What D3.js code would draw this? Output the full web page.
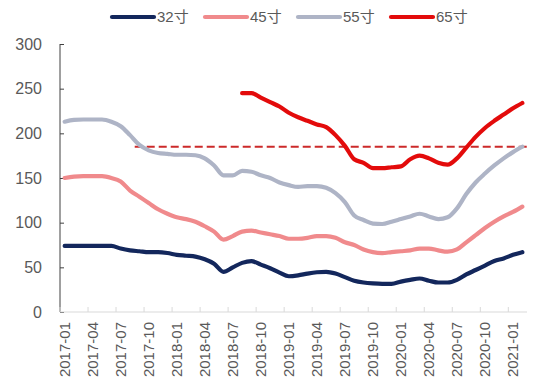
<!DOCTYPE html>
<html><head><meta charset="utf-8">
<script src="https://cdn.jsdelivr.net/npm/d3@7"></script>
<style>
html,body{margin:0;padding:0;background:#fff;}
svg{display:block;font-family:"Liberation Sans",Arial,"Noto Sans CJK SC",sans-serif;}
</style></head><body>
<svg id="chart" width="554" height="391"></svg>
<script>
const categories = ["2017-01","2017-02","2017-03","2017-04","2017-05","2017-06","2017-07","2017-08","2017-09","2017-10","2017-11","2017-12",
"2018-01","2018-02","2018-03","2018-04","2018-05","2018-06","2018-07","2018-08","2018-09","2018-10","2018-11","2018-12",
"2019-01","2019-02","2019-03","2019-04","2019-05","2019-06","2019-07","2019-08","2019-09","2019-10","2019-11","2019-12",
"2020-01","2020-02","2020-03","2020-04","2020-05","2020-06","2020-07","2020-08","2020-09","2020-10","2020-11","2020-12",
"2021-01","2021-02"];
const tickLabels = ["2017-01","2017-04","2017-07","2017-10","2018-01","2018-04","2018-07","2018-10","2019-01","2019-04","2019-07","2019-10","2020-01","2020-04","2020-07","2020-10","2021-01"];
const yTicks = [0,50,100,150,200,250,300];
const s32 = [74,74,74,74,74,74,71,69,68,67,67,66,64,63,62,59,54,45,50,55,57,53,49,44,40,41,43,44.5,45,43,39,35,33,32,31.5,31.5,34,36,37.5,35,33,33,36,42,47,52,57,60,64,67];
const s45 = [150,151.5,152,152,152,150,146,136,129,122,115,110,106,104,101,96,90,81,85,90,91,89,87,85,82,82,83,85,85,83,78,75,70,67,66,67,68,69,71,71,69,67.5,70,78,86,94,101,107,112,118];
const s55 = [213,215,215.5,215.5,215.5,213,208,198,187,181,178,177,176,176,175.5,172,164,153,153,158,157,153,150,145,142,140,141,141,139,133,123,108,103,99,98.5,101,104,107,110,107,104,106,116,132,145,155,164,172,179,185];
const s65 = [null,null,null,null,null,null,null,null,null,null,null,null,null,null,null,null,null,null,null,245,245,240,235,230,223,218,214,210,207,198,186,171,167,161,161,162,163,171,175,172,167,165,172,184,196,206,214,221,228,234];
const refValue = 185;
const refStart = "2017-09";
const seriesNames = ["32寸","45寸","55寸","65寸"];
const seriesColors = ["#13275c","#f08a8c","#aeb4c6","#e30b0b"];
const seriesData = [s32,s45,s55,s65];

const svg = d3.select("#chart");
const x = d3.scaleBand().domain(categories).range([60,527]).padding(0);
const y = d3.scaleLinear().domain([0,300]).range([312,44]);
const cx = c => x(c) + x.bandwidth()/2;
const textColor = "#595959";

// y axis
const yAxis = svg.append("g").attr("transform","translate(60,0)")
  .call(d3.axisRight(y).tickValues(yTicks).tickSize(4).tickFormat(""));
yAxis.select(".domain").attr("stroke","#404040").attr("d","M0,44V312");
yAxis.selectAll(".tick line").attr("stroke","#404040");
svg.append("g").selectAll("text").data(yTicks).join("text")
  .attr("x",42).attr("y",d=>y(d)).attr("dy","0.35em").attr("text-anchor","end")
  .attr("font-size",16).attr("fill",textColor).text(d=>d);

// x axis
const xAxisG = svg.append("g").attr("transform","translate(0,312)");
xAxisG.append("line").attr("x1",60).attr("x2",527).attr("stroke","#d9d9d9").attr("stroke-width",1);
xAxisG.selectAll(".xt").data(tickLabels).join("line").attr("class","xt")
  .attr("x1",d=>x(d)).attr("x2",d=>x(d)).attr("y1",0).attr("y2",-5).attr("stroke","#d9d9d9");
xAxisG.selectAll(".xl").data(tickLabels).join("text").attr("class","xl")
  .attr("transform",d=>`translate(${cx(d)},10) rotate(-90)`)
  .attr("dy","0.35em").attr("text-anchor","end").attr("font-size",15).attr("fill",textColor).text(d=>d);

// reference dashed line
svg.append("line").attr("x1",x(refStart)).attr("x2",527).attr("y1",y(refValue)).attr("y2",y(refValue))
  .attr("stroke","#cc2a2a").attr("stroke-width",1.8).attr("stroke-dasharray","8,4");

// series
const line = d3.line().defined(d=>d[1]!=null).x(d=>cx(d[0])).y(d=>y(d[1])).curve(d3.curveMonotoneX);
seriesData.forEach((s,i)=>{
  svg.append("path").datum(categories.map((c,j)=>[c,s[j]]))
    .attr("d",line).attr("fill","none").attr("stroke",seriesColors[i])
    .attr("stroke-width",4.2).attr("stroke-linejoin","round").attr("stroke-linecap","round");
});

// legend
const legendX = [112,205,298,391];
const lg = svg.append("g");
seriesNames.forEach((n,i)=>{
  lg.append("line").attr("x1",legendX[i]).attr("x2",legendX[i]+42).attr("y1",17).attr("y2",17)
    .attr("stroke",seriesColors[i]).attr("stroke-width",4.2).attr("stroke-linecap","round");
  lg.append("text").attr("x",legendX[i]+45).attr("y",17).attr("dy","0.35em")
    .attr("font-size",15).attr("fill",textColor).text(n);
});
</script>
</body></html>
